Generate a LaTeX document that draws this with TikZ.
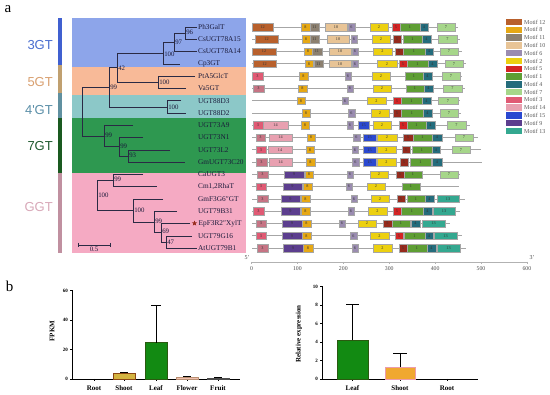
\documentclass[tikz,border=0pt]{standalone}
\usepackage{fontspec}
\setmainfont{Liberation Serif}
\newfontfamily\lsans{Liberation Sans}
\usetikzlibrary{shapes.geometric}
\definecolor{m12}{HTML}{B8602C}
\definecolor{m8}{HTML}{E6A814}
\definecolor{m11}{HTML}{8C8070}
\definecolor{m10}{HTML}{E8C496}
\definecolor{m6}{HTML}{9A8CB0}
\definecolor{m2}{HTML}{ECD010}
\definecolor{m5}{HTML}{D42424}
\definecolor{m5d}{HTML}{962A1C}
\definecolor{m1}{HTML}{5E9E34}
\definecolor{m4}{HTML}{246C7C}
\definecolor{m7}{HTML}{A6D68A}
\definecolor{m3}{HTML}{E05A74}
\definecolor{m3m}{HTML}{C67484}
\definecolor{m14}{HTML}{E8A0B0}
\definecolor{m15}{HTML}{2A48D0}
\definecolor{m9}{HTML}{5C3E8E}
\definecolor{m13}{HTML}{34A890}
\definecolor{bgblue}{HTML}{8DA5EA}
\definecolor{bgsalmon}{HTML}{F8BA98}
\definecolor{bgteal}{HTML}{8CC8C8}
\definecolor{bggreen}{HTML}{2E9850}
\definecolor{bgpink}{HTML}{F5AAC3}
\definecolor{gblue}{HTML}{4A6ED0}
\definecolor{gtan}{HTML}{D9A070}
\definecolor{gteal}{HTML}{5B8FA8}
\definecolor{ggreen}{HTML}{1E5A2E}
\definecolor{gpink}{HTML}{D8A8B8}
\definecolor{sbblue}{HTML}{4060D0}
\definecolor{sbtan}{HTML}{C0A070}
\definecolor{sbteal}{HTML}{6090A0}
\definecolor{sbgreen}{HTML}{1A5A20}
\definecolor{sbpink}{HTML}{C090A0}
\definecolor{treec}{HTML}{2A2A44}
\definecolor{labc}{HTML}{1A1A3A}
\definecolor{leafg}{HTML}{128A12}
\definecolor{leafd}{HTML}{2A5A10}
\definecolor{shootc}{HTML}{D4B440}
\definecolor{shootd}{HTML}{8B4513}
\definecolor{shoot2}{HTML}{F0A830}
\definecolor{flowc}{HTML}{F0C0B0}
\newcommand\mtf[5]{\path[fill=#4,draw=black!35,line width=0.2pt] (#2,#1-3.7) rectangle (#3,#1+3.7); \node[mlab] at ({(#2+#3)/2},#1) {#5};}
\newcommand\rl[2]{\draw[mline] (252,#1) -- (#2,#1);}
\begin{document}
\begin{tikzpicture}[x=1pt,y=-1pt,
 tl/.style={draw=treec, line width=0.55pt},
 leaf/.style={anchor=west, font=\fontsize{7.3}{8}\selectfont, text=labc, inner sep=0pt},
 bs/.style={anchor=west, font=\fontsize{6.8}{7}\selectfont, text=labc, inner sep=0.6pt},
 grp/.style={anchor=east, font=\lsans\fontsize{13}{14}\selectfont, inner sep=0pt},
 mlab/.style={font=\fontsize{4.2}{5}\selectfont, text=black!80, inner sep=0pt},
 mline/.style={draw=gray!70, line width=0.7pt},
 legt/.style={anchor=west, font=\fontsize{6}{7}\selectfont, text=black!65, inner sep=0pt},
 tick/.style={font=\bfseries\fontsize{5}{6}\selectfont, inner sep=0pt},
 cat/.style={font=\bfseries\fontsize{7}{8}\selectfont, inner sep=0pt},
 axl/.style={draw=black, line width=0.6pt},
 panel/.style={font=\fontsize{15}{16}\selectfont, inner sep=0pt}]
\useasboundingbox (0,0) rectangle (550,395);
\fill[white] (0,0) rectangle (550,395);
% panel labels
\node[panel] (pa) at (8,9.5) {a};
\node[panel] (pb) at (9.5,286) {b};
% backgrounds
\fill[bgblue] (72,18) rectangle (246,67);
\fill[bgsalmon] (72,67) rectangle (246,95);
\fill[bgteal] (72,95) rectangle (246,118);
\fill[bggreen] (72,118) rectangle (246,173);
\fill[bgpink] (72,173) rectangle (246,253);
% side bar
\fill[sbblue] (58,18) rectangle (61.5,65);
\fill[sbtan] (58,65) rectangle (61.5,93);
\fill[sbteal] (58,93) rectangle (61.5,118);
\fill[sbgreen] (58,118) rectangle (61.5,173);
\fill[sbpink] (58,173) rectangle (61.5,253);
\node[grp, text=gblue] (g3) at (53,45) {3GT};
\node[grp, text=gtan] (g5) at (53,82) {5GT};
\node[grp, text=gteal] (g4) at (53,110) {4'GT};
\node[grp, text=ggreen] (g7) at (53,146) {7GT};
\node[grp, text=gpink] (gg) at (53,207) {GGT};
% tree
\draw[tl] (197,27) -| (185,39.3) -- (197,39.3);
\draw[tl] (185,33.15) -| (174,51.6) -- (197,51.6);
\draw[tl] (174,42.4) -| (163,63.8) -- (180,63.8);
\draw[tl] (195,76.1) -| (158,88.4) -- (186,88.4);
\draw[tl] (163,53.1) -| (117,82.25) -- (158,82.25);
\draw[tl] (181,100.7) -| (167,113) -- (186,113);
\draw[tl] (117,67.7) -| (109,106.85) -- (167,106.85);
\draw[tl] (170,149.8) -| (128,162.1) -- (185,162.1);
\draw[tl] (143,137.5) -| (119,155.95) -- (128,155.95);
\draw[tl] (133,125.2) -| (104,146.7) -- (119,146.7);
\draw[tl] (109,87.3) -| (82,136) -- (104,136);
\draw[tl] (143,174.4) -| (113,186.6) -- (157,186.6);
\draw[tl] (192,235.8) -| (166,248) -- (197,248);
\draw[tl] (190,223.5) -| (161,241.9) -- (166,241.9);
\draw[tl] (177,211.2) -| (154,232.7) -- (161,232.7);
\draw[tl] (163,198.9) -| (133,222) -- (154,222);
\draw[tl] (113,180.5) -| (97,210.4) -- (133,210.4);
% bootstrap
\node[bs] (b96) at (185.5,32.5) {96};
\node[bs] (b97) at (174.5,42.4) {97};
\node[bs] (b100a) at (163.5,54.5) {100};
\node[bs] (b42) at (117.5,68) {42};
\node[bs] (b100b) at (158.5,82.25) {100};
\node[bs] (b99a) at (109.5,87.3) {99};
\node[bs] (b100c) at (167.5,107) {100};
\node[bs] (b99b) at (104.5,135) {99};
\node[bs] (b99c) at (119.5,146.7) {99};
\node[bs] (b93) at (128.5,155.5) {93};
\node[bs] (b99d) at (113.5,179.5) {99};
\node[bs] (b100d) at (97.5,195.5) {100};
\node[bs] (b100e) at (133.5,210.4) {100};
\node[bs] (b99e) at (154.5,221.5) {99};
\node[bs] (b69) at (161.5,231.5) {69};
\node[bs] (b47) at (166.5,242) {47};
% scale bar
\draw[tl] (78,243) -- (78,247) (78,245) -- (110,245) (110,243) -- (110,247);
\node[bs, anchor=north] (sc) at (94,246.5) {0.5};
% leaves
\node[leaf] (l1) at (198,27) {Ph3GalT};
\node[leaf] (l2) at (198,39.3) {CsUGT78A15};
\node[leaf] (l3) at (198,51.6) {CsUGT78A14};
\node[leaf] (l4) at (198,63.8) {Cp3GT};
\node[leaf] (l5) at (198,76.1) {PtA5GlcT};
\node[leaf] (l6) at (198,88.4) {Va5GT};
\node[leaf] (l7) at (198,100.7) {UGT88D3};
\node[leaf] (l8) at (198,113) {UGT88D2};
\node[leaf] (l9) at (198,125.2) {UGT73A9};
\node[leaf] (l10) at (198,137.5) {UGT73N1};
\node[leaf] (l11) at (198,149.8) {UGT73L2};
\node[leaf] (l12) at (198,162.1) {GmUGT73C20};
\node[leaf] (l13) at (198,174.4) {CaUGT3};
\node[leaf] (l14) at (198,186.6) {Cm1,2RhaT};
\node[leaf] (l15) at (198,198.9) {GmF3G6″GT};
\node[leaf] (l16) at (198,211.2) {UGT79B31};
\node[leaf] (l17) at (198.5,223.5) {EpF3R2″XylT};
\node[leaf] (l18) at (198,235.8) {UGT79G16};
\node[leaf] (l19) at (198,248) {AtUGT79B1};
\node[star, star points=5, star point ratio=2.3, fill=m5d, inner sep=0pt, minimum size=5.5pt] (st) at (194.5,223.3) {};
% motif rows
\rl{27}{458}\mtf{27}{252}{273}{m12}{12}\mtf{27}{301}{310}{m8}{8}\mtf{27}{310}{319}{m11}{11}\mtf{27}{325}{347}{m10}{10}\mtf{27}{348}{355}{m6}{6}\mtf{27}{370}{388}{m2}{2}\mtf{27}{392}{400}{m5}{5}\mtf{27}{400}{420}{m1}{1}\mtf{27}{420}{428}{m4}{4}\mtf{27}{437}{455}{m7}{7}
\rl{39.3}{460}\mtf{39.3}{255}{278}{m12}{12}\mtf{39.3}{302}{310}{m8}{8}\mtf{39.3}{310}{319}{m11}{11}\mtf{39.3}{327}{349}{m10}{10}\mtf{39.3}{351}{357}{m6}{6}\mtf{39.3}{372}{390}{m2}{2}\mtf{39.3}{393}{401}{m5d}{5}\mtf{39.3}{403}{422}{m1}{1}\mtf{39.3}{422}{431}{m4}{4}\mtf{39.3}{438}{457}{m7}{7}
\rl{51.6}{462}\mtf{51.6}{252}{276}{m12}{12}\mtf{51.6}{304}{312}{m8}{8}\mtf{51.6}{312}{322}{m11}{11}\mtf{51.6}{329}{351}{m10}{10}\mtf{51.6}{352}{358}{m6}{6}\mtf{51.6}{373}{392}{m2}{2}\mtf{51.6}{395}{403}{m5d}{5}\mtf{51.6}{403}{425}{m1}{1}\mtf{51.6}{425}{433}{m4}{4}\mtf{51.6}{440}{458}{m7}{7}
\rl{63.8}{466}\mtf{63.8}{253}{276}{m12}{12}\mtf{63.8}{305}{313}{m8}{8}\mtf{63.8}{314}{323}{m11}{11}\mtf{63.8}{329}{351}{m10}{10}\mtf{63.8}{352}{358}{m6}{6}\mtf{63.8}{377}{397}{m2}{2}\mtf{63.8}{399}{407}{m5}{5}\mtf{63.8}{407}{428}{m1}{1}\mtf{63.8}{428}{437}{m4}{4}\mtf{63.8}{445}{463}{m7}{7}
\rl{76.1}{462}\mtf{76.1}{252}{263}{m3}{3}\mtf{76.1}{299}{308}{m8}{8}\mtf{76.1}{345}{351}{m6}{6}\mtf{76.1}{372}{390}{m2}{2}\mtf{76.1}{405}{423}{m1}{1}\mtf{76.1}{423}{432}{m4}{4}\mtf{76.1}{442}{460}{m7}{7}
\rl{88.4}{465}\mtf{88.4}{253}{264}{m3m}{3}\mtf{88.4}{298}{307}{m8}{8}\mtf{88.4}{347}{353}{m6}{6}\mtf{88.4}{373}{391}{m2}{2}\mtf{88.4}{406}{424}{m1}{1}\mtf{88.4}{424}{433}{m4}{4}\mtf{88.4}{443}{462}{m7}{7}
\rl{100.7}{460}\mtf{100.7}{297}{305}{m8}{8}\mtf{100.7}{342}{348}{m6}{6}\mtf{100.7}{367}{386}{m2}{2}\mtf{100.7}{393}{401}{m5}{5}\mtf{100.7}{401}{422}{m1}{1}\mtf{100.7}{422}{431}{m4}{4}\mtf{100.7}{438}{458}{m7}{7}
\rl{113}{461}\mtf{113}{302}{310}{m8}{8}\mtf{113}{348}{355}{m6}{6}\mtf{113}{371}{389}{m2}{2}\mtf{113}{393}{401}{m5d}{5}\mtf{113}{401}{423}{m1}{1}\mtf{113}{423}{432}{m4}{4}\mtf{113}{440}{458}{m7}{7}
\rl{125.2}{470}\mtf{125.2}{253}{263}{m3}{3}\mtf{125.2}{263}{288}{m14}{14}\mtf{125.2}{301}{309}{m8}{8}\mtf{125.2}{347}{353}{m6}{6}\mtf{125.2}{358}{369}{m15}{15}\mtf{125.2}{373}{391}{m2}{2}\mtf{125.2}{399}{407}{m5}{5}\mtf{125.2}{407}{426}{m1}{1}\mtf{125.2}{426}{435}{m4}{4}\mtf{125.2}{447}{466}{m7}{7}
\rl{137.5}{478}\mtf{137.5}{256}{265}{m3m}{3}\mtf{137.5}{269}{292}{m14}{14}\mtf{137.5}{307}{315}{m8}{8}\mtf{137.5}{353}{360}{m6}{6}\mtf{137.5}{363}{376}{m15}{15}\mtf{137.5}{377}{397}{m2}{2}\mtf{137.5}{403}{413}{m5d}{5}\mtf{137.5}{413}{432}{m1}{1}\mtf{137.5}{432}{442}{m4}{4}\mtf{137.5}{455}{473}{m7}{7}
\rl{149.8}{481}\mtf{149.8}{256}{266}{m3}{3}\mtf{149.8}{268}{292}{m14}{14}\mtf{149.8}{306}{314}{m8}{8}\mtf{149.8}{352}{358}{m6}{6}\mtf{149.8}{363}{376}{m15}{15}\mtf{149.8}{377}{396}{m2}{2}\mtf{149.8}{402}{410}{m5d}{5}\mtf{149.8}{412}{432}{m1}{1}\mtf{149.8}{432}{440}{m4}{4}\mtf{149.8}{452}{470}{m7}{7}
\rl{162.1}{482}\mtf{162.1}{256}{267}{m3m}{3}\mtf{162.1}{269}{292}{m14}{14}\mtf{162.1}{306}{315}{m8}{8}\mtf{162.1}{352}{359}{m6}{6}\mtf{162.1}{363}{376}{m15}{15}\mtf{162.1}{377}{396}{m2}{2}\mtf{162.1}{400}{408}{m5d}{5}\mtf{162.1}{410}{431}{m1}{1}\mtf{162.1}{432}{442}{m4}{4}
\rl{174.4}{460}\mtf{174.4}{257}{268}{m3m}{3}\mtf{174.4}{284}{304}{m9}{9}\mtf{174.4}{305}{313}{m8}{8}\mtf{174.4}{347}{353}{m6}{6}\mtf{174.4}{370}{388}{m2}{2}\mtf{174.4}{396}{404}{m5d}{5}\mtf{174.4}{404}{422}{m1}{1}\mtf{174.4}{440}{458}{m7}{7}
\rl{186.6}{459}\mtf{186.6}{256}{266}{m3}{3}\mtf{186.6}{283}{302}{m9}{9}\mtf{186.6}{303}{312}{m8}{8}\mtf{186.6}{346}{352}{m6}{6}\mtf{186.6}{367}{385}{m2}{2}\mtf{186.6}{402}{420}{m1}{1}
\rl{198.9}{465}\mtf{198.9}{257}{268}{m3m}{3}\mtf{198.9}{281}{300}{m9}{9}\mtf{198.9}{301}{310}{m8}{8}\mtf{198.9}{351}{357}{m6}{6}\mtf{198.9}{371}{389}{m2}{2}\mtf{198.9}{397}{405}{m5d}{5}\mtf{198.9}{407}{425}{m1}{1}\mtf{198.9}{425}{434}{m4}{4}\mtf{198.9}{437}{459}{m13}{13}
\rl{211.2}{460}\mtf{211.2}{253}{264}{m3}{3}\mtf{211.2}{281}{300}{m9}{9}\mtf{211.2}{301}{310}{m8}{8}\mtf{211.2}{348}{354}{m6}{6}\mtf{211.2}{368}{387}{m2}{2}\mtf{211.2}{393}{401}{m5}{5}\mtf{211.2}{401}{423}{m1}{1}\mtf{211.2}{423}{432}{m4}{4}\mtf{211.2}{433}{455}{m13}{13}
\rl{223.5}{450}\mtf{223.5}{256}{266}{m3m}{3}\mtf{223.5}{282}{302}{m9}{9}\mtf{223.5}{302}{311}{m8}{8}\mtf{223.5}{339}{345}{m6}{6}\mtf{223.5}{358}{376}{m2}{2}\mtf{223.5}{383}{392}{m5d}{5}\mtf{223.5}{392}{410}{m1}{1}\mtf{223.5}{411}{420}{m4}{4}\mtf{223.5}{422}{445}{m13}{13}
\rl{235.8}{462}\mtf{235.8}{256}{266}{m3}{3}\mtf{235.8}{282}{302}{m9}{9}\mtf{235.8}{302}{311}{m8}{8}\mtf{235.8}{350}{357}{m6}{6}\mtf{235.8}{370}{389}{m2}{2}\mtf{235.8}{395}{403}{m5}{5}\mtf{235.8}{404}{425}{m1}{1}\mtf{235.8}{425}{433}{m4}{4}\mtf{235.8}{434}{457}{m13}{13}
\rl{248}{466}\mtf{248}{257}{268}{m3m}{3}\mtf{248}{283}{303}{m9}{9}\mtf{248}{303}{313}{m8}{8}\mtf{248}{352}{358}{m6}{6}\mtf{248}{373}{392}{m2}{2}\mtf{248}{399}{407}{m5d}{5}\mtf{248}{407}{427}{m1}{1}\mtf{248}{427}{436}{m4}{4}\mtf{248}{437}{460}{m13}{13}
% motif axis
\draw[draw=gray!60, line width=0.8pt] (251.5,262) -- (527,262);
\foreach \v [count=\i from 0] in {0,100,200,300,400,500,600}{
  \draw[draw=gray!60, line width=0.5pt] (251.5+45.9*\i,262) -- (251.5+45.9*\i,264.5);
  \node[font=\fontsize{5.8}{6}\selectfont, text=black!70, inner sep=0pt] (ax\i) at (251.5+45.9*\i,268.5) {\v};
}
\node[font=\fontsize{6}{6}\selectfont, text=black!70, inner sep=0pt] (p5) at (247,258) {5'};
\node[font=\fontsize{6}{6}\selectfont, text=black!70, inner sep=0pt] (p3) at (532,258) {3'};
% legend
\foreach \c/\t [count=\i from 0] in {m12/12,m8/8,m11/11,m10/10,m6/6,m2/2,m5/5,m1/1,m4/4,m7/7,m3/3,m14/14,m15/15,m9/9,m13/13}{
  \fill[\c] (506,22+7.79*\i-3.2) rectangle (522,22+7.79*\i+3.2);
  \node[legt] (lg\i) at (524,22+7.79*\i) {Motif \t};
}
% chart left
\draw[axl] (72,290.5) -- (72,379) -- (240,379);
\foreach \v in {0,20,40,60}{
  \draw[axl] (72,379-1.475*\v) -- (69.5,379-1.475*\v);
  \node[tick, anchor=east] at (68,379-1.475*\v) {\v};
}
\foreach \x/\t in {94/Root,124/Shoot,156/Leaf,187/Flower,218/Fruit}{
  \draw[axl] (\x,379) -- (\x,381);
  \node[cat] at (\x,388) {\t};
}
\node[cat, rotate=90] (fp) at (52,331) {FPKM};
\draw[fill=shootc, draw=shootd, line width=0.6pt] (113,379) rectangle (135,373.1);
\draw[line width=0.6pt] (124,373.1) -- (124,371.9) (120,371.9) -- (128,371.9);
\draw[fill=leafg, draw=leafd, line width=0.8pt] (145,379) rectangle (167,342.9);
\draw[line width=0.6pt] (156,342.9) -- (156,305.25) (151,305.25) -- (161,305.25);
\draw[fill=flowc, draw=shootd!60, line width=0.5pt] (176,379) rectangle (198,377.2);
\draw[line width=0.5pt] (187,377.2) -- (187,376.5) (183,376.5) -- (191,376.5);
\draw[fill=gray, draw=black!70, line width=0.5pt] (207,379) rectangle (229,378.1);
\draw[line width=0.5pt] (218,378.1) -- (218,377.5) (214,377.5) -- (222,377.5);
% chart right
\draw[axl] (322,286.5) -- (322,379) -- (478,379);
\foreach \v in {0,2,4,6,8,10}{
  \draw[axl] (322,379-9.25*\v) -- (319.5,379-9.25*\v);
  \node[tick, anchor=east] at (318,379-9.25*\v) {\v};
}
\foreach \x/\t in {352.5/Leaf,400/Shoot,447/Root}{
  \draw[axl] (\x,379) -- (\x,381);
  \node[cat] at (\x,388) {\t};
}
\node[cat, rotate=90] (re) at (299,334) {Relative expression};
\draw[fill=leafg, draw=leafd, line width=0.8pt] (337,379) rectangle (368,340.2);
\draw[line width=0.6pt] (352.5,340.2) -- (352.5,304.1) (346,304.1) -- (359,304.1);
\draw[fill=shoot2, draw=m3!60, line width=0.6pt] (385,379) rectangle (415,367.4);
\draw[line width=0.6pt] (400,367.4) -- (400,353.1) (393,353.1) -- (407,353.1);
\end{tikzpicture}
\end{document}
